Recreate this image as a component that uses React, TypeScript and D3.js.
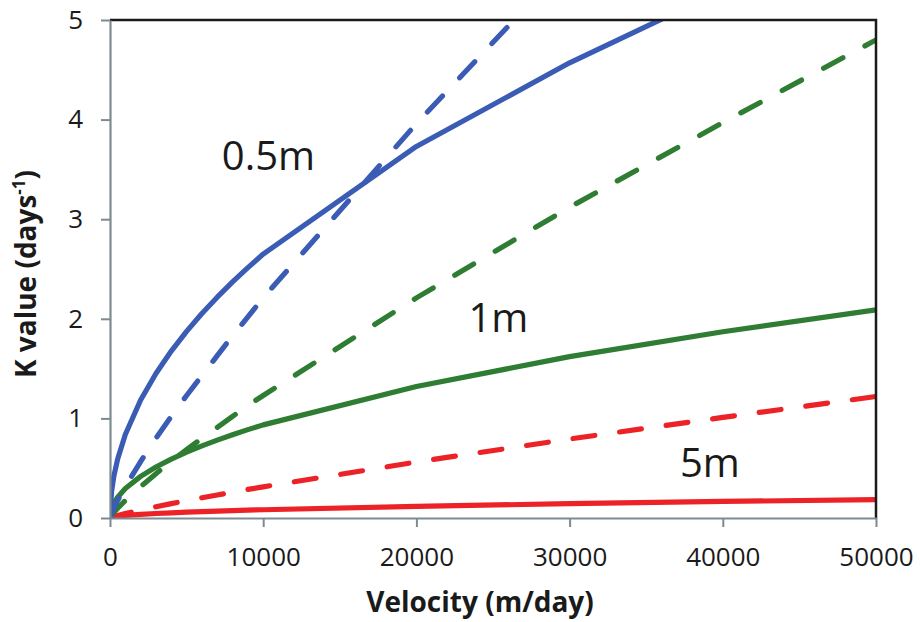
import React, { useEffect, useRef } from "react";
import * as d3 from "d3";

// velocity (m/day) sample points shared by every series
const velocity = [0, 100, 250, 500, 1000, 2000, 3000, 4000, 5000, 6000, 7000, 8000, 9000, 10000, 20000, 30000, 40000, 50000];

// K value (days^-1)
const blueSolid = [0, 0.265, 0.419, 0.593, 0.838, 1.185, 1.451, 1.676, 1.874, 2.053, 2.217, 2.37, 2.514, 2.65, 3.73, 4.57, 5.3, 5.93];
const blueDashed = [0, 0.045, 0.098, 0.176, 0.316, 0.567, 0.8, 1.02, 1.23, 1.43, 1.63, 1.83, 2.02, 2.21, 3.96, 5.59, 7.12, 8.6];
const greenSolid = [0, 0.094, 0.148, 0.209, 0.296, 0.418, 0.512, 0.591, 0.661, 0.724, 0.782, 0.836, 0.887, 0.935, 1.32, 1.62, 1.87, 2.09];
const greenDashed = [0, 0.025, 0.055, 0.098, 0.176, 0.316, 0.445, 0.568, 0.686, 0.8, 0.91, 1.02, 1.13, 1.23, 2.21, 3.12, 3.97, 4.8];
const redSolid = [0, 0.008, 0.013, 0.019, 0.026, 0.037, 0.045, 0.052, 0.059, 0.064, 0.069, 0.074, 0.079, 0.083, 0.117, 0.144, 0.166, 0.185];
const redDashed = [0, 0.006, 0.014, 0.025, 0.045, 0.08, 0.113, 0.144, 0.174, 0.203, 0.231, 0.259, 0.287, 0.313, 0.562, 0.793, 1.01, 1.22];

const xTicks = [0, 10000, 20000, 30000, 40000, 50000];
const yTicks = [0, 1, 2, 3, 4, 5];

const series = [
  { values: redSolid, color: "#ec2227", dashed: false },
  { values: redDashed, color: "#ec2227", dashed: true },
  { values: greenDashed, color: "#2e7d32", dashed: true },
  { values: greenSolid, color: "#2e7d32", dashed: false },
  { values: blueDashed, color: "#3b5cb5", dashed: true },
  { values: blueSolid, color: "#3b5cb5", dashed: false },
];

// depth labels, anchored at their left edge / baseline
const depthLabels = [
  { text: "0.5m", v: 7300, k: 3.49 },
  { text: "1m", v: 23400, k: 1.87 },
  { text: "5m", v: 37200, k: 0.41 },
];

export default function App() {
  const ref = useRef(null);

  useEffect(() => {
    const width = 920;
    const height = 622;
    const margin = { top: 20, right: 44, bottom: 104, left: 110 };
    const font = "'Open Sans', Lato, sans-serif";

    const x = d3.scaleLinear().domain([0, 50000]).range([margin.left, width - margin.right]);
    const y = d3.scaleLinear().domain([0, 5]).range([height - margin.bottom, margin.top]);

    const svg = d3.select(ref.current);
    svg.selectAll("*").remove();

    svg.append("defs").append("clipPath").attr("id", "plot-clip")
      .append("rect")
      .attr("x", x(0)).attr("y", y(5))
      .attr("width", x(50000) - x(0)).attr("height", y(0) - y(5));

    const line = d3.line()
      .x((d) => x(d[0]))
      .y((d) => y(d[1]));

    const lines = svg.append("g").attr("clip-path", "url(#plot-clip)");
    series.forEach((s) => {
      lines.append("path")
        .datum(velocity.map((v, i) => [v, s.values[i]]))
        .attr("fill", "none")
        .attr("stroke", s.color)
        .attr("stroke-width", 5.2)
        .attr("stroke-linecap", s.dashed ? "round" : "butt")
        .attr("stroke-linejoin", "round")
        .attr("stroke-dasharray", s.dashed ? "22 25" : null)
        .attr("d", line);
    });

    // top and right frame
    svg.append("path")
      .attr("fill", "none")
      .attr("stroke", "#1a1a1a")
      .attr("stroke-width", 2.5)
      .attr("d", `M${x(0)},${y(5)}H${x(50000)}V${y(0)}`);

    const xAxis = svg.append("g")
      .attr("transform", `translate(0,${y(0)})`)
      .call(d3.axisBottom(x).tickValues(xTicks).tickSize(9).tickSizeOuter(0).tickPadding(21).tickFormat(d3.format("d")));
    const yAxis = svg.append("g")
      .attr("transform", `translate(${x(0)},0)`)
      .call(d3.axisLeft(y).tickValues(yTicks).tickSize(9).tickSizeOuter(0).tickPadding(18).tickFormat(d3.format("d")));

    [xAxis, yAxis].forEach((g) => {
      g.select(".domain").attr("stroke", "#7d8b91").attr("stroke-width", 2.2);
      g.selectAll(".tick line").attr("stroke", "#7d8b91").attr("stroke-width", 2);
      g.selectAll(".tick text").attr("fill", "#1a1a1a").attr("font-size", 26).attr("font-family", font);
    });

    svg.append("g")
      .selectAll("text")
      .data(depthLabels)
      .join("text")
      .attr("x", (d) => x(d.v))
      .attr("y", (d) => y(d.k))
      .attr("font-family", font)
      .attr("font-size", 40)
      .attr("fill", "#1a1a1a")
      .text((d) => d.text);

    svg.append("text")
      .attr("x", 480)
      .attr("y", 612)
      .attr("text-anchor", "middle")
      .attr("font-family", font)
      .attr("font-weight", "bold")
      .attr("font-size", 28)
      .attr("fill", "#1a1a1a")
      .text("Velocity (m/day)");

    const yTitle = svg.append("text")
      .attr("transform", `translate(36,${274}) rotate(-90)`)
      .attr("text-anchor", "middle")
      .attr("font-family", font)
      .attr("font-weight", "bold")
      .attr("font-size", 28)
      .attr("fill", "#1a1a1a");
    yTitle.append("tspan").text("K value (days");
    yTitle.append("tspan").attr("baseline-shift", "super").attr("font-size", 17).text("-1");
    yTitle.append("tspan").text(")");
  }, []);

  return (
    <svg
      ref={ref}
      width={920}
      height={622}
      style={{ position: "absolute", left: 0, top: 0, background: "#fff" }}
    />
  );
}
